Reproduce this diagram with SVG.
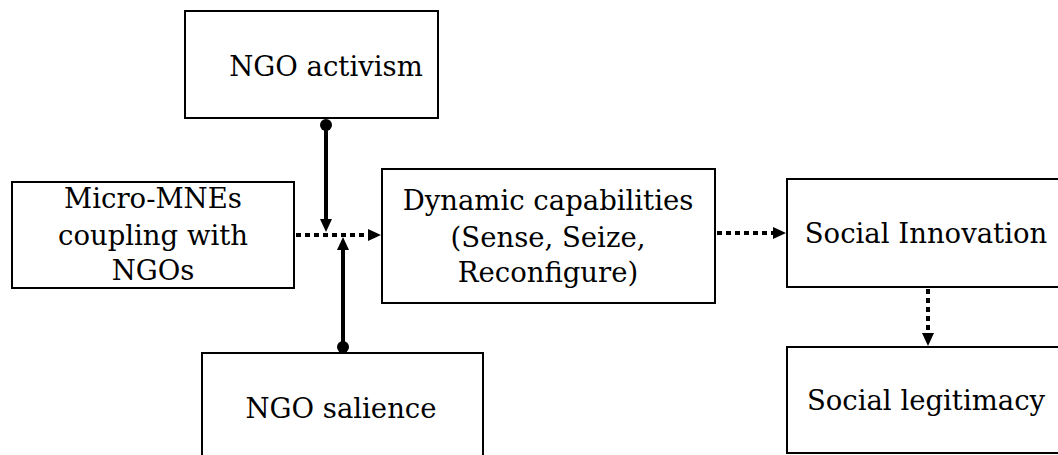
<svg xmlns="http://www.w3.org/2000/svg" width="1058" height="455" viewBox="0 0 1058 455">
  <style>
    .box { fill: #fff; stroke: #000; stroke-width: 2; }
    .lbl { font-family: "DejaVu Serif", "Liberation Serif", serif; font-size: 27.5px; fill: #000; text-anchor: middle; }
    .solid { stroke: #000; stroke-width: 4; fill: none; }
    .dot { stroke: #000; stroke-width: 4; fill: none; stroke-dasharray: 5 4; }
  </style>
  <defs>
    <marker id="ah" markerUnits="userSpaceOnUse" markerWidth="14" markerHeight="14" viewBox="0 0 14 14" refX="5" refY="7" orient="auto">
      <path d="M0,1 L13,7 L0,13 Z" fill="#000"/>
    </marker>
    <marker id="ball" markerUnits="userSpaceOnUse" markerWidth="14" markerHeight="14" viewBox="0 0 14 14" refX="7" refY="7" orient="auto">
      <circle cx="7" cy="7" r="6" fill="#000"/>
    </marker>
  </defs>
  <rect width="1058" height="455" fill="#fff"/>

  <g id="connectors">
    <line class="solid" x1="326" y1="125" x2="326" y2="224" marker-start="url(#ball)" marker-end="url(#ah)"/>
    <line class="solid" x1="343" y1="347" x2="343" y2="245" marker-start="url(#ball)" marker-end="url(#ah)"/>
    <line class="dot" x1="296" y1="235" x2="373" y2="235" marker-end="url(#ah)"/>
    <line class="dot" x1="717" y1="233" x2="778" y2="233" marker-end="url(#ah)"/>
    <line class="dot" x1="928" y1="289" x2="928" y2="338" marker-end="url(#ah)"/>
  </g>

  <g id="ngo-activism">
    <rect class="box" x="185" y="11" width="253" height="107"/>
    <text class="lbl" x="326" y="76">NGO activism</text>
  </g>
  <g id="micro-mnes">
    <rect class="box" x="12" y="182" width="282" height="106"/>
    <text class="lbl" x="153" y="208">Micro-MNEs</text>
    <text class="lbl" x="153" y="245">coupling with</text>
    <text class="lbl" x="153" y="280">NGOs</text>
  </g>
  <g id="dynamic-capabilities">
    <rect class="box" x="382" y="169" width="333" height="134"/>
    <text class="lbl" x="548" y="210">Dynamic capabilities</text>
    <text class="lbl" x="548" y="247">(Sense, Seize,</text>
    <text class="lbl" x="548" y="282">Reconfigure)</text>
  </g>
  <g id="social-innovation">
    <rect class="box" x="787" y="179" width="290" height="108"/>
    <text class="lbl" x="926" y="243">Social Innovation</text>
  </g>
  <g id="social-legitimacy">
    <rect class="box" x="787" y="347" width="290" height="106"/>
    <text class="lbl" x="926" y="410">Social legitimacy</text>
  </g>
  <g id="ngo-salience">
    <rect class="box" x="202" y="353" width="281" height="120"/>
    <text class="lbl" x="341" y="418">NGO salience</text>
  </g>
</svg>
